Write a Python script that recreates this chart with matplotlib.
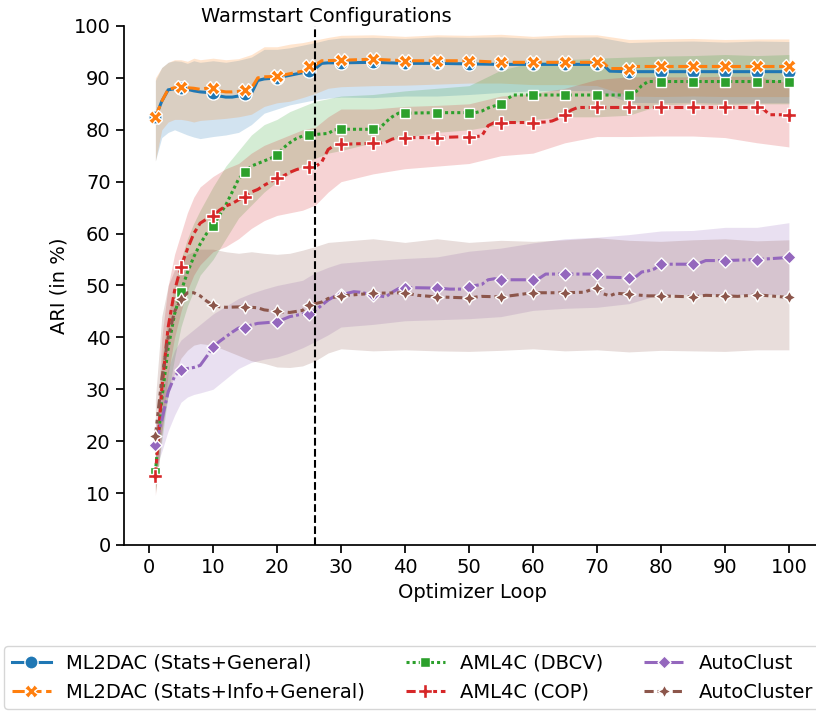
import matplotlib
matplotlib.use("Agg")
import matplotlib.pyplot as plt
from matplotlib.lines import Line2D

plt.rcParams['font.family'] = ['DejaVu Sans']

# ---------------- data ----------------
series_names = ["ML2DAC (Stats+General)", "ML2DAC (Stats+Info+General)",
                "AML4C (DBCV)", "AML4C (COP)", "AutoClust", "AutoCluster"]

ml2dac_sg_mean = [(1, 82.4), (2, 85.5), (3, 87.7), (4, 87.9), (5, 88.0), (6, 87.8), (7, 87.5),
                  (8, 87.3), (9, 87.2), (10, 87.0), (11, 86.5), (12, 86.3), (13, 86.3), (14, 86.5),
                  (15, 86.8), (16, 87.0), (17, 89.5), (18, 89.8), (19, 89.9), (20, 90.0), (22, 90.5),
                  (24, 91.0), (25, 91.4), (26, 91.8), (27, 92.8), (28, 92.9), (30, 92.9), (35, 93.0),
                  (40, 92.8), (45, 92.8), (50, 92.7), (55, 92.6), (60, 92.6), (65, 92.6), (70, 92.6),
                  (71, 92.5), (72, 91.3), (75, 91.2), (80, 91.2), (85, 91.2), (90, 91.2), (95, 91.2),
                  (100, 91.2)]
ml2dac_sig_mean = [(1, 82.4), (2, 85.5), (3, 87.8), (4, 88.1), (5, 88.2), (6, 88.1), (7, 88.0),
                   (8, 87.8), (9, 88.0), (10, 88.1), (11, 87.5), (12, 87.3), (13, 87.3), (14, 87.4),
                   (15, 87.6), (16, 88.0), (17, 90.0), (18, 90.2), (20, 90.3), (22, 90.8), (24, 91.3),
                   (25, 92.2), (26, 92.5), (27, 93.3), (30, 93.4), (35, 93.6), (40, 93.3), (45, 93.3),
                   (50, 93.3), (55, 93.0), (60, 93.0), (65, 93.0), (70, 93.0), (71, 92.9), (72, 91.8),
                   (75, 91.8), (76, 92.2), (80, 92.2), (85, 92.2), (90, 92.2), (95, 92.2), (100, 92.2)]
aml4c_dbcv_mean = [(1, 14.0), (2, 28.0), (3, 38.0), (4, 44.5), (5, 48.8), (6, 52.5), (7, 55.5),
                   (8, 58.0), (9, 60.0), (10, 61.5), (11, 63.5), (12, 65.5), (13, 68.0), (14, 70.5),
                   (15, 71.9), (16, 73.0), (17, 73.5), (18, 74.0), (19, 74.5), (20, 75.1), (21, 76.5),
                   (22, 77.5), (23, 78.3), (24, 78.8), (25, 79.0), (26, 79.1), (28, 79.3), (29, 80.0),
                   (30, 80.1), (35, 80.1), (36, 80.2), (37, 81.5), (38, 82.5), (39, 83.2), (40, 83.2),
                   (45, 83.3), (50, 83.3), (51, 83.3), (52, 83.6), (53, 84.2), (54, 84.6), (55, 84.9),
                   (56, 86.0), (57, 86.7), (60, 86.7), (65, 86.7), (70, 86.7), (75, 86.7), (76, 87.2),
                   (77, 88.5), (78, 89.3), (80, 89.3), (85, 89.3), (90, 89.3), (95, 89.3), (100, 89.3)]
aml4c_cop_mean = [(1, 13.2), (2, 30.0), (3, 42.0), (4, 49.0), (5, 53.6), (6, 57.0), (7, 60.0),
                  (8, 62.0), (9, 62.8), (10, 63.4), (11, 64.5), (12, 65.3), (13, 65.8), (14, 66.5),
                  (15, 67.1), (16, 68.0), (17, 68.5), (18, 69.3), (19, 70.0), (20, 70.7), (21, 71.1),
                  (22, 71.8), (23, 72.3), (24, 72.7), (25, 72.9), (26, 72.9), (27, 73.8), (28, 76.2),
                  (29, 77.0), (30, 77.2), (35, 77.4), (36, 77.4), (37, 77.6), (38, 78.2), (39, 78.5),
                  (40, 78.5), (45, 78.5), (50, 78.7), (51, 78.7), (52, 78.8), (53, 80.8), (54, 81.4),
                  (55, 81.4), (60, 81.4), (62, 81.5), (63, 81.7), (64, 82.2), (65, 82.9), (66, 83.8),
                  (67, 84.3), (70, 84.3), (75, 84.3), (80, 84.3), (85, 84.3), (90, 84.3), (95, 84.3),
                  (96, 84.0), (97, 82.9), (100, 82.9)]
autoclust_mean = [(1, 19.3), (2, 24.0), (3, 29.5), (4, 32.5), (5, 33.8), (6, 34.0), (7, 34.2),
                  (8, 34.6), (9, 36.3), (10, 38.1), (11, 39.2), (12, 40.1), (13, 41.0), (14, 41.8),
                  (15, 41.9), (16, 42.4), (17, 42.7), (18, 42.8), (19, 42.9), (20, 43.0), (22, 44.0),
                  (24, 44.5), (25, 44.6), (26, 45.2), (27, 46.2), (28, 47.2), (29, 47.9), (30, 48.2),
                  (32, 48.8), (33, 48.7), (35, 48.2), (36, 48.0), (37, 47.8), (38, 48.7), (39, 49.4),
                  (40, 49.6), (45, 49.5), (47, 49.3), (49, 49.3), (50, 49.8), (52, 50.2), (53, 51.1),
                  (54, 51.3), (55, 51.1), (60, 51.1), (61, 51.4), (62, 52.2), (65, 52.2), (70, 52.2),
                  (71, 51.6), (75, 51.5), (76, 51.6), (77, 52.6), (78, 52.8), (79, 53.2), (80, 54.1),
                  (85, 54.1), (86, 54.3), (87, 54.8), (90, 54.8), (95, 55.0), (100, 55.4)]
autocluster_mean = [(1, 20.9), (2, 32.0), (3, 40.0), (4, 45.0), (5, 47.3), (6, 48.6), (7, 48.6),
                    (8, 48.0), (9, 47.0), (10, 46.2), (11, 45.9), (12, 45.8), (15, 45.9), (17, 45.7),
                    (18, 45.3), (20, 45.0), (22, 44.8), (24, 45.2), (25, 46.2), (26, 46.5), (27, 46.8),
                    (28, 47.5), (30, 48.0), (35, 48.5), (40, 48.6), (42, 48.1), (45, 47.8), (50, 47.6),
                    (52, 47.9), (55, 47.8), (57, 48.1), (60, 48.6), (65, 48.6), (68, 48.7), (70, 49.6),
                    (71, 48.4), (72, 48.0), (73, 48.5), (75, 48.3), (78, 48.0), (80, 48.0), (85, 47.8),
                    (87, 48.1), (90, 48.0), (92, 47.9), (95, 48.2), (100, 47.7)]

# confidence bands (common iteration grid)
band_x = [1, 2, 3, 4, 5, 6, 7, 8, 10, 12, 14, 16, 18, 20, 22, 24, 26, 28, 30,
          35, 40, 45, 50, 55, 60, 65, 70, 75, 80, 85, 90, 95, 100]
ml2dac_sg_lo = [74, 78.5, 79.5, 80, 79.5, 79, 78.6, 78.3, 78.7, 79, 79.5, 81, 83.2, 84, 84.8, 85.3, 85.8,
                86.1, 86.3, 86.2, 86.5, 86.5, 86.8, 87.2, 87.5, 87.6, 87.5, 85.3, 85.2, 85.3, 85.1, 85.2, 85.2]
ml2dac_sg_hi = [89.5, 92, 93, 93.3, 93.2, 92.8, 93.3, 93, 93.3, 93, 93.4, 94, 95.5, 95.5, 95.8, 96.3, 96.8,
                97.4, 97.7, 97.8, 97.6, 97.9, 97.8, 97.9, 97.6, 97.8, 97.9, 96.8, 97, 97.1, 96.9, 97.1, 97]
ml2dac_sig_lo = [74, 80, 81.5, 82, 82, 81.8, 81.5, 81.8, 82, 82.2, 82.5, 83, 84.5, 85.2, 85.5, 86.2, 87,
                 88, 88.3, 88.5, 88.6, 88.8, 89, 89, 88.7, 88.7, 88.5, 86.5, 86.4, 86.5, 86.4, 86.4, 86.4]
ml2dac_sig_hi = [90, 92, 93, 93.5, 93.5, 93.2, 93.8, 93.5, 93.8, 93.5, 93.7, 94.5, 96, 96, 96.5, 96.8, 97.3,
                 97.8, 98.2, 98.3, 98, 98.3, 98.2, 98.4, 98, 98.3, 98.3, 97.4, 97.5, 97.6, 97.4, 97.5, 97.5]
aml4c_dbcv_lo = [10, 20, 29, 36, 42, 46, 49, 52, 55, 59, 63, 65.5, 68, 70, 71.5, 73, 74.5, 75.5, 76,
                 77.5, 78.5, 79.5, 80, 81, 82, 82.5, 82.5, 82.8, 84.8, 85, 84.8, 85, 85]
aml4c_dbcv_hi = [17.5, 36, 44, 50, 55, 59, 62, 64.5, 69, 73, 76, 79, 81, 82, 83.5, 84.5, 85.5, 86, 86.5,
                 86.8, 87.5, 88, 88.5, 91.5, 93, 93.5, 93.8, 94, 94.2, 94.3, 94.5, 94.3, 94.5]
aml4c_cop_lo = [9.5, 21, 33, 40, 45, 49, 52, 54, 56.5, 57.5, 59, 61, 62.5, 63.5, 64, 64.5, 65.5, 68, 70,
                71.5, 72.5, 73, 73.5, 75, 75.5, 77.5, 78.7, 78.7, 78.8, 78.8, 78.5, 77.5, 76.7]
aml4c_cop_hi = [17, 40, 50, 56, 60, 64, 67, 69, 71, 72.5, 73.5, 75.5, 77, 78, 79, 80, 80.5, 82.5, 84,
                84, 84.5, 84.7, 85, 86.5, 87, 88, 89.7, 90.2, 90.2, 90.2, 90.3, 90.3, 89]
autoclust_lo = [14.5, 18, 22, 25, 27.5, 28.5, 29, 29.3, 30, 32, 34, 35.2, 35.8, 36.2, 37, 38, 39.2, 40.5, 42,
                42.5, 43.2, 43.4, 43.6, 44, 45.2, 45.6, 45.8, 46.5, 48.3, 48.3, 48.2, 48.3, 48.2]
autoclust_hi = [23, 29, 34, 37.5, 39.5, 40.5, 41.5, 42.5, 44.5, 46, 47.5, 48.5, 49.3, 50, 50.5, 51, 52.5,
                53.5, 54.3, 54.8, 55.2, 55.5, 56.6, 57.2, 58.2, 59, 59.3, 59.8, 60.5, 60.6, 61.2, 61.2, 62.1]
autocluster_lo = [10.5, 22, 29, 33, 36, 37.5, 38.5, 38.8, 38.5, 37.5, 36.5, 35.5, 35, 34.3, 34.2, 34.5,
                  35.5, 37, 37.8, 37.4, 37.6, 37.4, 37.3, 37.5, 37.8, 37.4, 37.6, 37.2, 37.5, 37.4, 37.3,
                  37.6, 37.6]
autocluster_hi = [28, 44, 50, 53, 54.5, 56, 56.5, 57, 57, 56.5, 56.2, 56.5, 56.2, 56, 56.2, 56.8, 57.5,
                  58.3, 58.5, 59, 58.3, 59, 58.3, 58.7, 58.5, 58.8, 59.2, 58.7, 58.5, 58.8, 59, 58.6, 58.8]

warmstart_iter = 26
x_ticks = list(range(0, 101, 10))
y_ticks = list(range(0, 101, 10))

# ---------------- style ----------------
colors = ["#1f77b4", "#ff7f0e", "#2ca02c", "#d62728", "#9467bd", "#8c564b"]
markers = ["o", "X", (4, 0, 45), "P", (4, 0, 0), (4, 1, 0)]
dashes = [None, (4, 1.5), (1, 1), (3, 1.25, 1.5, 1.25), (5, 1, 1, 1), (3, 1.25, 1.25, 1.25, 1.25, 1.25)]
means = [ml2dac_sg_mean, ml2dac_sig_mean, aml4c_dbcv_mean, aml4c_cop_mean, autoclust_mean, autocluster_mean]
los = [ml2dac_sg_lo, ml2dac_sig_lo, aml4c_dbcv_lo, aml4c_cop_lo, autoclust_lo, autocluster_lo]
his = [ml2dac_sg_hi, ml2dac_sig_hi, aml4c_dbcv_hi, aml4c_cop_hi, autoclust_hi, autocluster_hi]

FS = 14
LW = 2.2
MS = 9.5

fig = plt.figure(figsize=(8.16, 7.12), dpi=100)
ax = fig.add_axes([0.1516, 0.2346, 0.854, 0.7289])

handles = []
for name, m, lo, hi, c, mk, ds in zip(series_names, means, los, his, colors, markers, dashes):
    xs = [p[0] for p in m]
    ys = [p[1] for p in m]
    ax.fill_between(band_x, lo, hi, color=c, alpha=0.2, linewidth=0)
    mark_idx = [i for i, xv in enumerate(xs) if xv == 1 or xv % 5 == 0]
    kw = dict(color=c, lw=LW, marker=mk, markersize=MS, markeredgecolor="white",
              markeredgewidth=1.0, markevery=mark_idx)
    ln, = ax.plot(xs, ys, **kw)
    if ds is not None:
        ln.set_dashes(ds)
    h = Line2D([0], [0], color=c, lw=LW, marker=mk, markersize=MS,
               markeredgecolor="white", markeredgewidth=1.0)
    if ds is not None:
        h.set_dashes(ds)
    handles.append(h)

ax.axvline(warmstart_iter, color="black", linestyle="--", lw=1.5)
ax.text(27.7, 100.8, "Warmstart Configurations", ha="center", va="baseline",
        fontsize=FS, clip_on=False)

ax.set_xlim(-3.95, 104.95)
ax.set_ylim(0, 100)
ax.set_xticks(x_ticks)
ax.set_yticks(y_ticks)
ax.tick_params(labelsize=FS, length=6, width=1.25)
ax.set_xlabel("Optimizer Loop", fontsize=FS)
ax.set_ylabel("ARI (in %)", fontsize=FS)
for s in ["top", "right"]:
    ax.spines[s].set_visible(False)
for s in ["left", "bottom"]:
    ax.spines[s].set_linewidth(1.25)

fig.legend(handles=handles, labels=series_names, ncol=3, fontsize=FS,
           loc="upper left", bbox_to_anchor=(4 / 816, 1 - 646 / 712),
           frameon=True, handlelength=2.0, columnspacing=2.1, borderaxespad=0)

fig.savefig("out.png", dpi=100)
